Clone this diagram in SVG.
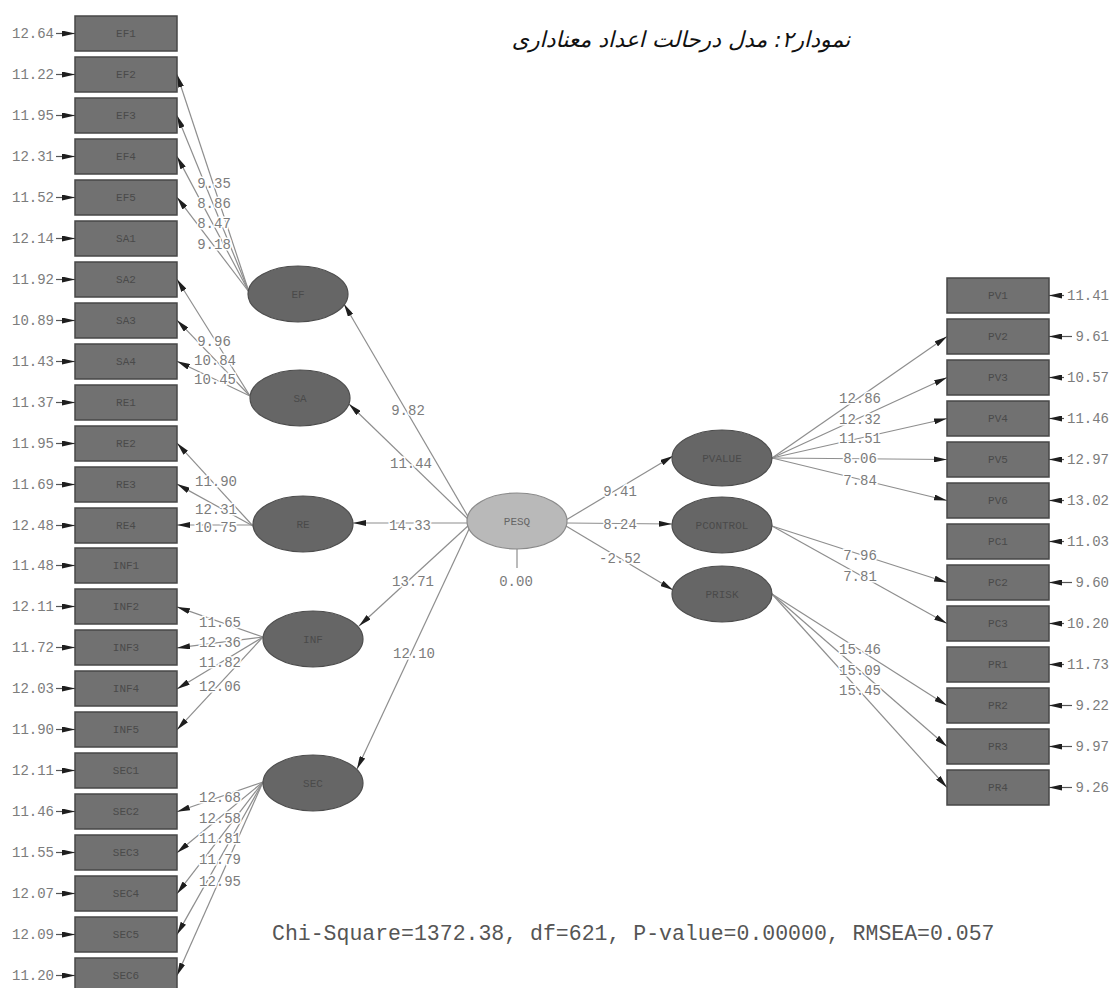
<svg xmlns="http://www.w3.org/2000/svg" width="1115" height="988" viewBox="0 0 1115 988">
<style>
.bx{fill:#717171;stroke:#474747;stroke-width:1.5}
.lv{fill:#666;stroke:#4d4d4d;stroke-width:1.2}
.pesq{fill:#b9b9b9;stroke:#8a8a8a;stroke-width:1.2}
.nt{font-family:"Liberation Mono",monospace;font-size:11px;fill:#4a4a4a;text-anchor:middle}
.lb{font-family:"Liberation Mono",monospace;font-size:14px;fill:#7c7c7c;text-anchor:middle;stroke:#fff;stroke-width:3;paint-order:stroke}
.el{font-family:"Liberation Mono",monospace;font-size:14px;fill:#7c7c7c}
.cn line{stroke:#8e8e8e;stroke-width:1.2;marker-end:url(#ah)}
.er line{stroke:#555;stroke-width:1.2;marker-end:url(#ah)}
</style>
<defs>
<marker id="ah" markerUnits="userSpaceOnUse" viewBox="0 0 13 6" refX="13" refY="3" markerWidth="13" markerHeight="6" orient="auto"><path d="M0,0 L13,3 L0,6 z" fill="#1e1e1e"/></marker>
</defs>
<rect width="1115" height="988" fill="#fff"/>
<text x="681" y="47" direction="rtl" font-family="DejaVu Sans, 'Noto Sans', sans-serif" font-size="22" font-style="italic" fill="#111" text-anchor="middle">نمودار۲: مدل درحالت اعداد معناداری</text>

<g id="connectors" class="cn">
<line x1="249" y1="292" x2="177" y2="74.5"/>
<line x1="249" y1="292" x2="177" y2="115.4"/>
<line x1="249" y1="292" x2="177" y2="156.4"/>
<line x1="249" y1="292" x2="177" y2="197.3"/>
<line x1="250" y1="396" x2="177" y2="279.3"/>
<line x1="250" y1="396" x2="177" y2="320.2"/>
<line x1="250" y1="396" x2="177" y2="361.2"/>
<line x1="253" y1="526" x2="177" y2="443.1"/>
<line x1="253" y1="526" x2="177" y2="484.1"/>
<line x1="253" y1="525" x2="177" y2="525"/>
<line x1="263" y1="637" x2="177" y2="606.9"/>
<line x1="263" y1="637" x2="177" y2="647.9"/>
<line x1="263" y1="637" x2="177" y2="688.9"/>
<line x1="263" y1="637" x2="177" y2="729.8"/>
<line x1="263" y1="782" x2="177" y2="811.7"/>
<line x1="263" y1="782" x2="177" y2="852.7"/>
<line x1="263" y1="782" x2="177" y2="893.7"/>
<line x1="263" y1="782" x2="177" y2="934.6"/>
<line x1="263" y1="782" x2="177" y2="975.6"/>
<line x1="470" y1="520" x2="344" y2="304"/>
<line x1="470" y1="521" x2="349" y2="404"/>
<line x1="467" y1="523" x2="353" y2="523"/>
<line x1="469" y1="525" x2="359" y2="626"/>
<line x1="470" y1="527" x2="357" y2="769"/>
<line x1="566" y1="520" x2="673" y2="456"/>
<line x1="567" y1="523" x2="672" y2="524"/>
<line x1="566" y1="526" x2="673" y2="590"/>
<line x1="772" y1="458" x2="947" y2="336.5"/>
<line x1="772" y1="458" x2="947" y2="377.5"/>
<line x1="772" y1="458" x2="947" y2="418.5"/>
<line x1="772" y1="458" x2="947" y2="459.5"/>
<line x1="772" y1="458" x2="947" y2="500.5"/>
<line x1="772" y1="526" x2="947" y2="582.5"/>
<line x1="772" y1="526" x2="947" y2="623.5"/>
<line x1="772" y1="594" x2="947" y2="705.5"/>
<line x1="772" y1="594" x2="947" y2="746.5"/>
<line x1="772" y1="594" x2="947" y2="787.5"/>
<line x1="517" y1="549" x2="517" y2="568" style="marker-end:none"/>
</g>

<g id="path-labels">
<text class="lb" x="214" y="188">9.35</text>
<text class="lb" x="214" y="208">8.86</text>
<text class="lb" x="214" y="228">8.47</text>
<text class="lb" x="214" y="249">9.18</text>
<text class="lb" x="214" y="346">9.96</text>
<text class="lb" x="215" y="365">10.84</text>
<text class="lb" x="215" y="384">10.45</text>
<text class="lb" x="216" y="486">11.90</text>
<text class="lb" x="216" y="514">12.31</text>
<text class="lb" x="216" y="532">10.75</text>
<text class="lb" x="220" y="627">11.65</text>
<text class="lb" x="220" y="647">12.36</text>
<text class="lb" x="220" y="667">11.82</text>
<text class="lb" x="220" y="691">12.06</text>
<text class="lb" x="220" y="802">12.68</text>
<text class="lb" x="220" y="823">12.58</text>
<text class="lb" x="220" y="843">11.81</text>
<text class="lb" x="220" y="864">11.79</text>
<text class="lb" x="220" y="886">12.95</text>
<text class="lb" x="408" y="415">9.82</text>
<text class="lb" x="411" y="468">11.44</text>
<text class="lb" x="410" y="530">14.33</text>
<text class="lb" x="413" y="586">13.71</text>
<text class="lb" x="414" y="658">12.10</text>
<text class="lb" x="620" y="496">9.41</text>
<text class="lb" x="620" y="529">8.24</text>
<text class="lb" x="620" y="563">-2.52</text>
<text class="lb" x="860" y="403">12.86</text>
<text class="lb" x="860" y="424">12.32</text>
<text class="lb" x="860" y="443">11.51</text>
<text class="lb" x="860" y="463">8.06</text>
<text class="lb" x="860" y="485">7.84</text>
<text class="lb" x="860" y="560">7.96</text>
<text class="lb" x="860" y="581">7.81</text>
<text class="lb" x="860" y="654">15.46</text>
<text class="lb" x="860" y="675">15.09</text>
<text class="lb" x="860" y="695">15.45</text>
<text class="lb" x="516" y="586">0.00</text>
</g>

<g id="errors-left" class="er">
<line x1="56" y1="33.5" x2="75" y2="33.5"/><line x1="56" y1="74.5" x2="75" y2="74.5"/><line x1="56" y1="115.5" x2="75" y2="115.5"/><line x1="56" y1="156.5" x2="75" y2="156.5"/><line x1="56" y1="197.5" x2="75" y2="197.5"/><line x1="56" y1="238.5" x2="75" y2="238.5"/><line x1="56" y1="279.5" x2="75" y2="279.5"/><line x1="56" y1="320.5" x2="75" y2="320.5"/><line x1="56" y1="361.5" x2="75" y2="361.5"/><line x1="56" y1="402.5" x2="75" y2="402.5"/><line x1="56" y1="443.5" x2="75" y2="443.5"/><line x1="56" y1="484.5" x2="75" y2="484.5"/><line x1="56" y1="525.5" x2="75" y2="525.5"/><line x1="56" y1="565.5" x2="75" y2="565.5"/><line x1="56" y1="606.5" x2="75" y2="606.5"/><line x1="56" y1="647.5" x2="75" y2="647.5"/><line x1="56" y1="688.5" x2="75" y2="688.5"/><line x1="56" y1="729.5" x2="75" y2="729.5"/><line x1="56" y1="770.5" x2="75" y2="770.5"/><line x1="56" y1="811.5" x2="75" y2="811.5"/><line x1="56" y1="852.5" x2="75" y2="852.5"/><line x1="56" y1="893.5" x2="75" y2="893.5"/><line x1="56" y1="934.5" x2="75" y2="934.5"/><line x1="56" y1="975.5" x2="75" y2="975.5"/>
</g>
<g id="errors-left-text" class="el" text-anchor="end">
<text x="54" y="38">12.64</text><text x="54" y="79">11.22</text><text x="54" y="120">11.95</text><text x="54" y="161">12.31</text><text x="54" y="202">11.52</text><text x="54" y="243">12.14</text><text x="54" y="284">11.92</text><text x="54" y="325">10.89</text><text x="54" y="366">11.43</text><text x="54" y="407">11.37</text><text x="54" y="448">11.95</text><text x="54" y="489">11.69</text><text x="54" y="530">12.48</text><text x="54" y="570">11.48</text><text x="54" y="611">12.11</text><text x="54" y="652">11.72</text><text x="54" y="693">12.03</text><text x="54" y="734">11.90</text><text x="54" y="775">12.11</text><text x="54" y="816">11.46</text><text x="54" y="857">11.55</text><text x="54" y="898">12.07</text><text x="54" y="939">12.09</text><text x="54" y="980">11.20</text>
</g>

<g id="errors-right" class="er">
<line x1="1064" y1="295.5" x2="1049" y2="295.5"/><line x1="1072" y1="336.5" x2="1049" y2="336.5"/><line x1="1064" y1="377.5" x2="1049" y2="377.5"/><line x1="1064" y1="418.5" x2="1049" y2="418.5"/><line x1="1064" y1="459.5" x2="1049" y2="459.5"/><line x1="1064" y1="500.5" x2="1049" y2="500.5"/><line x1="1064" y1="541.5" x2="1049" y2="541.5"/><line x1="1072" y1="582.5" x2="1049" y2="582.5"/><line x1="1064" y1="623.5" x2="1049" y2="623.5"/><line x1="1064" y1="664.5" x2="1049" y2="664.5"/><line x1="1072" y1="705.5" x2="1049" y2="705.5"/><line x1="1072" y1="746.5" x2="1049" y2="746.5"/><line x1="1072" y1="787.5" x2="1049" y2="787.5"/>
</g>
<g id="errors-right-text" class="el" text-anchor="end">
<text x="1109" y="300">11.41</text><text x="1109" y="341">9.61</text><text x="1109" y="382">10.57</text><text x="1109" y="423">11.46</text><text x="1109" y="464">12.97</text><text x="1109" y="505">13.02</text><text x="1109" y="546">11.03</text><text x="1109" y="587">9.60</text><text x="1109" y="628">10.20</text><text x="1109" y="669">11.73</text><text x="1109" y="710">9.22</text><text x="1109" y="751">9.97</text><text x="1109" y="792">9.26</text>
</g>

<g id="EF1"><rect class="bx" x="75" y="16" width="102" height="35"/><text class="nt" x="126" y="37">EF1</text></g>
<g id="EF2"><rect class="bx" x="75" y="57" width="102" height="35"/><text class="nt" x="126" y="78">EF2</text></g>
<g id="EF3"><rect class="bx" x="75" y="98" width="102" height="35"/><text class="nt" x="126" y="119">EF3</text></g>
<g id="EF4"><rect class="bx" x="75" y="139" width="102" height="35"/><text class="nt" x="126" y="160">EF4</text></g>
<g id="EF5"><rect class="bx" x="75" y="180" width="102" height="35"/><text class="nt" x="126" y="201">EF5</text></g>
<g id="SA1"><rect class="bx" x="75" y="221" width="102" height="35"/><text class="nt" x="126" y="242">SA1</text></g>
<g id="SA2"><rect class="bx" x="75" y="262" width="102" height="35"/><text class="nt" x="126" y="283">SA2</text></g>
<g id="SA3"><rect class="bx" x="75" y="303" width="102" height="35"/><text class="nt" x="126" y="324">SA3</text></g>
<g id="SA4"><rect class="bx" x="75" y="344" width="102" height="35"/><text class="nt" x="126" y="365">SA4</text></g>
<g id="RE1"><rect class="bx" x="75" y="385" width="102" height="35"/><text class="nt" x="126" y="406">RE1</text></g>
<g id="RE2"><rect class="bx" x="75" y="426" width="102" height="35"/><text class="nt" x="126" y="447">RE2</text></g>
<g id="RE3"><rect class="bx" x="75" y="467" width="102" height="35"/><text class="nt" x="126" y="488">RE3</text></g>
<g id="RE4"><rect class="bx" x="75" y="508" width="102" height="35"/><text class="nt" x="126" y="529">RE4</text></g>
<g id="INF1"><rect class="bx" x="75" y="548" width="102" height="35"/><text class="nt" x="126" y="569">INF1</text></g>
<g id="INF2"><rect class="bx" x="75" y="589" width="102" height="35"/><text class="nt" x="126" y="610">INF2</text></g>
<g id="INF3"><rect class="bx" x="75" y="630" width="102" height="35"/><text class="nt" x="126" y="651">INF3</text></g>
<g id="INF4"><rect class="bx" x="75" y="671" width="102" height="35"/><text class="nt" x="126" y="692">INF4</text></g>
<g id="INF5"><rect class="bx" x="75" y="712" width="102" height="35"/><text class="nt" x="126" y="733">INF5</text></g>
<g id="SEC1"><rect class="bx" x="75" y="753" width="102" height="35"/><text class="nt" x="126" y="774">SEC1</text></g>
<g id="SEC2"><rect class="bx" x="75" y="794" width="102" height="35"/><text class="nt" x="126" y="815">SEC2</text></g>
<g id="SEC3"><rect class="bx" x="75" y="835" width="102" height="35"/><text class="nt" x="126" y="856">SEC3</text></g>
<g id="SEC4"><rect class="bx" x="75" y="876" width="102" height="35"/><text class="nt" x="126" y="897">SEC4</text></g>
<g id="SEC5"><rect class="bx" x="75" y="917" width="102" height="35"/><text class="nt" x="126" y="938">SEC5</text></g>
<g id="SEC6"><rect class="bx" x="75" y="958" width="102" height="35"/><text class="nt" x="126" y="979">SEC6</text></g>

<g id="PV1"><rect class="bx" x="947" y="278" width="102" height="35"/><text class="nt" x="998" y="299">PV1</text></g>
<g id="PV2"><rect class="bx" x="947" y="319" width="102" height="35"/><text class="nt" x="998" y="340">PV2</text></g>
<g id="PV3"><rect class="bx" x="947" y="360" width="102" height="35"/><text class="nt" x="998" y="381">PV3</text></g>
<g id="PV4"><rect class="bx" x="947" y="401" width="102" height="35"/><text class="nt" x="998" y="422">PV4</text></g>
<g id="PV5"><rect class="bx" x="947" y="442" width="102" height="35"/><text class="nt" x="998" y="463">PV5</text></g>
<g id="PV6"><rect class="bx" x="947" y="483" width="102" height="35"/><text class="nt" x="998" y="504">PV6</text></g>
<g id="PC1"><rect class="bx" x="947" y="524" width="102" height="35"/><text class="nt" x="998" y="545">PC1</text></g>
<g id="PC2"><rect class="bx" x="947" y="565" width="102" height="35"/><text class="nt" x="998" y="586">PC2</text></g>
<g id="PC3"><rect class="bx" x="947" y="606" width="102" height="35"/><text class="nt" x="998" y="627">PC3</text></g>
<g id="PR1"><rect class="bx" x="947" y="647" width="102" height="35"/><text class="nt" x="998" y="668">PR1</text></g>
<g id="PR2"><rect class="bx" x="947" y="688" width="102" height="35"/><text class="nt" x="998" y="709">PR2</text></g>
<g id="PR3"><rect class="bx" x="947" y="729" width="102" height="35"/><text class="nt" x="998" y="750">PR3</text></g>
<g id="PR4"><rect class="bx" x="947" y="770" width="102" height="35"/><text class="nt" x="998" y="791">PR4</text></g>

<g id="EF"><ellipse class="lv" cx="298" cy="294" rx="50" ry="28"/><text class="nt" x="298" y="298">EF</text></g>
<g id="SA"><ellipse class="lv" cx="300" cy="398" rx="50" ry="28"/><text class="nt" x="300" y="402">SA</text></g>
<g id="RE"><ellipse class="lv" cx="303" cy="524" rx="50" ry="28"/><text class="nt" x="303" y="528">RE</text></g>
<g id="INF"><ellipse class="lv" cx="313" cy="639" rx="50" ry="28"/><text class="nt" x="313" y="643">INF</text></g>
<g id="SEC"><ellipse class="lv" cx="313" cy="783" rx="50" ry="28"/><text class="nt" x="313" y="787">SEC</text></g>
<g id="PESQ"><ellipse class="pesq" cx="517" cy="521" rx="50" ry="28"/><text class="nt" x="517" y="525" style="fill:#666">PESQ</text></g>
<g id="PVALUE"><ellipse class="lv" cx="722" cy="458" rx="50" ry="28"/><text class="nt" x="722" y="462">PVALUE</text></g>
<g id="PCONTROL"><ellipse class="lv" cx="722" cy="525" rx="50" ry="28"/><text class="nt" x="722" y="529">PCONTROL</text></g>
<g id="PRISK"><ellipse class="lv" cx="722" cy="594" rx="50" ry="28"/><text class="nt" x="722" y="598">PRISK</text></g>

<text x="272" y="940" font-family="Liberation Mono, monospace" font-size="21.5" fill="#555">Chi-Square=1372.38, df=621, P-value=0.00000, RMSEA=0.057</text>
</svg>
